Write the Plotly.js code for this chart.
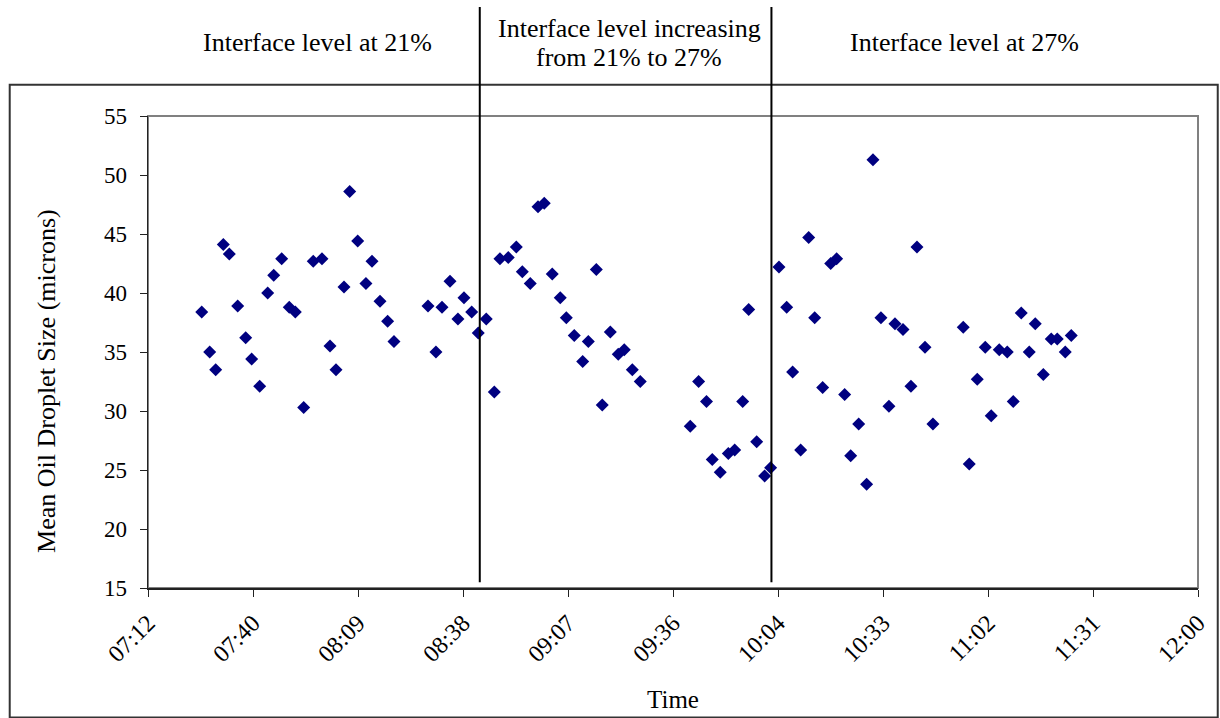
<!DOCTYPE html>
<html>
<head>
<meta charset="utf-8">
<script src="https://cdn.plot.ly/plotly-3.0.1.min.js"></script>
<style>
  html, body { margin: 0; padding: 0; background: #ffffff; }
  #chart { width: 1220px; height: 718px; }
</style>
</head>
<body>
<div id="chart"></div>
<script>
// Sample times (HH:MM:SS)
const times = [
  "07:26:44","07:28:55","07:30:34","07:32:39","07:34:18","07:36:36","07:38:48","07:40:26","07:42:38","07:44:50",
  "07:46:29","07:48:40","07:50:45","07:52:24","07:54:42","07:57:20","07:59:43","08:01:55","08:03:34","08:05:46",
  "08:07:19","08:09:31","08:11:47","08:13:26","08:15:38","08:17:44","08:19:28",
  "08:28:48","08:30:59","08:32:38","08:34:50","08:37:01","08:38:40","08:40:47","08:42:35","08:44:47","08:46:59",
  "08:48:32","08:50:49","08:53:01","08:54:40","08:56:51","08:58:58","09:00:41","09:02:53","09:05:05","09:06:44",
  "09:08:55","09:11:14","09:12:46","09:14:58","09:16:36","09:18:48","09:20:59","09:22:38","09:24:50","09:27:01",
  "09:40:44","09:43:02","09:45:11","09:46:46","09:48:58","09:51:10","09:52:55","09:55:07","09:56:46","09:58:57",
  "10:01:08","10:02:47","10:05:04","10:07:11","10:08:49","10:11:01","10:13:13","10:14:52","10:17:03","10:19:15",
  "10:20:53","10:23:05","10:24:44","10:26:56","10:29:07","10:30:51","10:33:02","10:35:14","10:36:53","10:39:05",
  "10:41:16","10:42:55","10:45:07","10:47:18",
  "10:55:37","10:57:16","10:59:27","11:01:39","11:03:17","11:05:29","11:07:41","11:09:20","11:11:31","11:13:43",
  "11:15:22","11:17:34","11:19:45","11:21:24","11:23:35","11:25:14"
];

// Mean oil droplet size (microns)
const dropletSize = [
  38.4, 35.0, 33.5, 44.1, 43.3, 38.9, 36.2, 34.4, 32.1, 40.0,
  41.5, 42.9, 38.8, 38.4, 30.3, 42.7, 42.9, 35.5, 33.5, 40.5,
  48.6, 44.4, 40.8, 42.7, 39.3, 37.6, 35.9,
  38.9, 35.0, 38.8, 41.0, 37.8, 39.6, 38.4, 36.6, 37.8, 31.6,
  42.9, 43.0, 43.9, 41.8, 40.8, 47.3, 47.6, 41.6, 39.6, 37.9,
  36.4, 34.2, 35.9, 42.0, 30.5, 36.7, 34.8, 35.2, 33.5, 32.5,
  28.7, 32.5, 30.8, 25.9, 24.8, 26.4, 26.7, 30.8, 38.6, 27.4,
  24.5, 25.2, 42.2, 38.8, 33.3, 26.7, 44.7, 37.9, 32.0, 42.5,
  42.9, 31.4, 26.2, 28.9, 23.8, 51.3, 37.9, 30.4, 37.4, 36.9,
  32.1, 43.9, 35.4, 28.9,
  37.1, 25.5, 32.7, 35.4, 29.6, 35.2, 35.0, 30.8, 38.3, 35.0,
  37.4, 33.1, 36.1, 36.1, 35.0, 36.4
];

// Phase boundaries (vertical lines) and phase labels
const boundaryTimes = ["08:43:00", "10:03:00"];
const phaseLabels = ["Interface level at 21%", "Interface level increasing<br>from 21% to 27%", "Interface level at 27%"];

const axisStart = "07:12";
const axisEnd = "12:00";
const yTitle = "Mean Oil Droplet Size (microns)";
const xTitle = "Time";

const day = "2000-01-01 ";
const serif = "Liberation Serif, Times New Roman, serif";

const trace = {
  type: "scatter",
  mode: "markers",
  x: times.map(t => day + t),
  y: dropletSize,
  marker: { symbol: "diamond", size: 10, color: "#000080", line: { width: 0 } },
  hoverinfo: "x+y",
  showlegend: false
};

const shapes = [
  // outer frame
  { type: "rect", xref: "paper", yref: "paper", x0: -0.1317, x1: 1.0188, y0: -0.2744, y1: 1.0663,
    line: { color: "#333333", width: 2 }, fillcolor: "rgba(0,0,0,0)", layer: "below" },
  // plot-area border (grey)
  { type: "rect", xref: "paper", yref: "paper", x0: 0, x1: 1, y0: 0, y1: 1,
    line: { color: "#808080", width: 2 }, fillcolor: "rgba(0,0,0,0)", layer: "below" }
].concat(boundaryTimes.map(t => ({
  type: "line", xref: "x", yref: "paper", x0: day + t, x1: day + t, y0: 0.012, y1: 1.231,
  line: { color: "#000000", width: 2 }
})));

// label lines: each phase label may hold several lines separated by <br>
const labelCentreX = [0.161, 0.4585, 0.7777];
const labelLineY = [[1.1547], [1.1864, 1.1250], [1.1557]];

const annotations = [];
phaseLabels.forEach((txt, i) => {
  txt.split("<br>").forEach((line, j) => {
    annotations.push({
      xref: "paper", yref: "paper", x: labelCentreX[i], y: labelLineY[i][j],
      text: line, showarrow: false, xanchor: "center", yanchor: "middle",
      font: { family: serif, size: 26, color: "#000000" }
    });
  });
});
// y-axis title (placed as in the original, slightly below the plot centre)
annotations.push({
  xref: "paper", yref: "paper", x: -0.0962, y: 0.4386,
  text: yTitle, textangle: -90, showarrow: false, xanchor: "center", yanchor: "middle",
  font: { family: serif, size: 26, color: "#000000" }
});

const layout = {
  width: 1220,
  height: 718,
  margin: { l: 148, r: 22, t: 116, b: 130, pad: 0 },
  paper_bgcolor: "#ffffff",
  plot_bgcolor: "#ffffff",
  font: { family: serif, color: "#000000" },
  xaxis: {
    type: "date",
    range: [day + axisStart, day + axisEnd],
    tick0: day + axisStart,
    dtick: 1728000,
    tickformat: "%H:%M",
    tickangle: -45,
    ticks: "outside",
    ticklen: 7,
    tickcolor: "#222222",
    showline: true,
    linecolor: "#222222",
    linewidth: 1.5,
    showgrid: false,
    zeroline: false,
    ticklabelstandoff: 3,
    tickfont: { family: serif, size: 24, color: "#000000" },
    title: { text: xTitle, font: { family: serif, size: 25, color: "#000000" }, standoff: 24 }
  },
  yaxis: {
    range: [15, 55],
    dtick: 5,
    ticks: "outside",
    ticklen: 7,
    tickcolor: "#222222",
    showline: true,
    linecolor: "#222222",
    linewidth: 1.5,
    showgrid: false,
    zeroline: false,
    ticklabelstandoff: 8,
    tickfont: { family: serif, size: 23, color: "#000000" }
  },
  shapes: shapes,
  annotations: annotations
};

Plotly.newPlot("chart", [trace], layout, { displayModeBar: false, staticPlot: true });
</script>
</body>
</html>
